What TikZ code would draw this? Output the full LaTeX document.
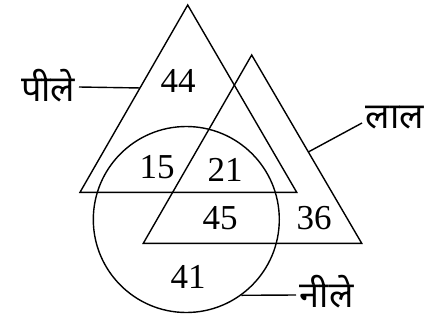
\documentclass[tikz,border=0pt]{standalone}
\usepackage{fontspec}
\setmainfont{Liberation Serif}
\newfontfamily\hindifont[Script=Devanagari]{Noto Sans}
\usetikzlibrary{calc, positioning}

\begin{document}
\begin{tikzpicture}[x=1pt, y=-1pt, line width=1.4pt,
    num/.style={font=\fontsize{35}{35}\selectfont},
    lbl/.style={font=\hindifont\fontsize{36}{36}\selectfont, inner sep=3pt}]

    \useasboundingbox (0,0) rectangle (437,322);

    % =================================================================
    % 1. TAM GIAC VA DUONG TRON
    % =================================================================
    \coordinate (Y1) at (187.7,5);
    \coordinate (Y2) at (80,192.3);
    \coordinate (Y3) at (296.7,192.3);
    \coordinate (R1) at (251.7,55);
    \coordinate (R2) at (143.3,243.3);
    \coordinate (R3) at (361.7,243.3);

    \draw (Y1) -- (Y2) -- (Y3) -- cycle;
    \draw (R1) -- (R2) -- (R3) -- cycle;
    \node[circle, draw, minimum size=186pt, inner sep=0pt] (blue) at (186.3,219.5) {};

    % =================================================================
    % 2. CAC SO TRONG MIEN
    % =================================================================
    \node[num] (n44) at (178,80.5) {44};
    \node[num] (n15) at (157,167) {15};
    \node[num] (n21) at (225,170) {21};
    \node[num] (n45) at (220,218) {45};
    \node[num] (n36) at (314,218.5) {36};
    \node[num] (n41) at (188,277) {41};

    % =================================================================
    % 3. NHAN
    % =================================================================
    \coordinate (pY) at ($(Y1)!0.443!(Y2)$);
    \coordinate (pR) at ($(R1)!0.515!(R3)$);

    \node[lbl, anchor=east] (peele) at (79,86) {पीले};
    \node[lbl, anchor=west] (laal) at (362,118) {लाल};
    \node[lbl, anchor=west] (neele) at (296,292) {नीले};

    \draw ([yshift=-1pt]peele.east) -- (pY);
    \draw ([yshift=-5pt]laal.west) -- (pR);
    \draw ([yshift=-3pt]neele.west) -- (blue.-54);

\end{tikzpicture}
\end{document}
